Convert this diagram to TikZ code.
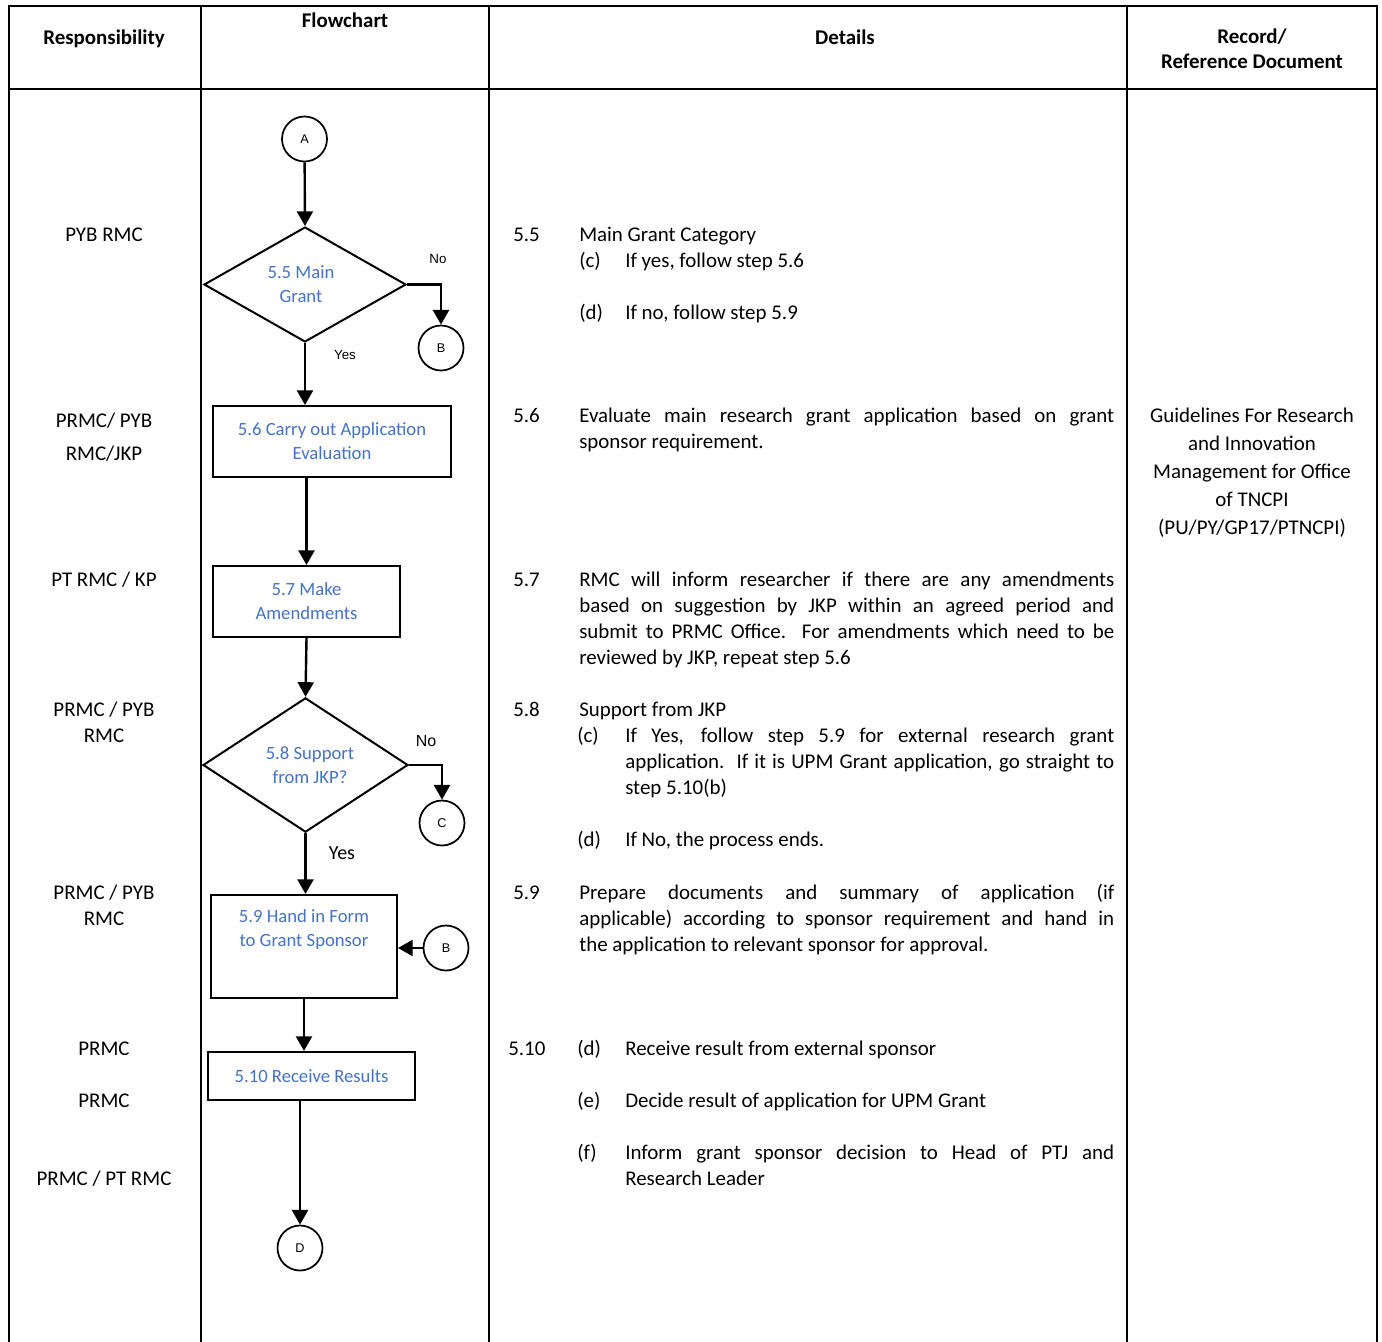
\documentclass[tikz,border=0pt]{standalone}
\usepackage{fontspec}
\setmainfont{Carlito}
\newfontfamily\arialf{Liberation Sans}
\usetikzlibrary{shapes.geometric,arrows.meta}
\newlength\upx
\setlength\upx{0.75pt}
\definecolor{stepblue}{RGB}{68,114,196}
% one justified line of a given width (in px), one plain line
\newcommand\jl[2]{\hbox to #1\upx{#2}}
\newcommand\pl[1]{\hbox{#1}}
% one centred line for the record column
\newcommand\ctr[1]{\hbox to 260\upx{\hfil#1\hfil}}
% two centred lines for the flowchart steps, optional extra space below
\newcommand\two[3][0]{\vbox{\halign{\hfil##\hfil\cr #2\cr #3\cr\noalign{\kern #1\upx}}}}
\begin{document}
\begin{tikzpicture}[x=0.75pt,y=-0.75pt,
  grid/.style={line width=2pt},
  body/.style={font=\fontsize{15.7}{19.5}\selectfont, inner sep=0pt},
  head/.style={font=\fontsize{15.7}{19.5}\selectfont\bfseries, inner sep=0pt},
  stepbox/.style={draw, rectangle, line width=1.5pt, inner sep=0pt,
    text=stepblue, font=\fontsize{14}{18}\selectfont},
  decision/.style={draw, diamond, line width=1.5pt, inner sep=0pt,
    text=stepblue, font=\fontsize{14}{18}\selectfont},
  conn/.style={draw, circle, line width=1.3pt, minimum size=45\upx, inner sep=0pt,
    font=\arialf\fontsize{9.5}{11}\selectfont},
  flow/.style={line width=1.8pt, -{Triangle[length=11pt,width=12pt]}},
  yn/.style={font=\arialf\fontsize{10}{12}\selectfont, inner sep=0pt}]
\useasboundingbox (0,0) rectangle (1382,1342);

% table frame
\draw[grid] (9,1342) -- (9,6) -- (1377,6) -- (1377,1342);
\draw[grid] (9,89) -- (1377,89);
\draw[grid] (201,6) -- (201,1342);
\draw[grid] (489,6) -- (489,1342);
\draw[grid] (1127,6) -- (1127,1342);

% column headings
\node[head, anchor=base] (hresp) at (104,44) {Responsibility};
\node[head, anchor=base] (hflow) at (345,27) {Flowchart};
\node[head, anchor=base] (hdet) at (845,44) {Details};
\node[head, anchor=base] (hrec1) at (1252,43) {Record/};
\node[head, anchor=base] (hrec2) at (1252,68) {Reference Document};

% responsibility column
\node[body, anchor=base] (r1) at (104,241) {PYB RMC};
\node[body, anchor=base] (r2a) at (104,427) {PRMC/ PYB};
\node[body, anchor=base] (r2b) at (104,460) {RMC/JKP};
\node[body, anchor=base] (r3) at (104,586) {PT RMC / KP};
\node[body, anchor=base] (r4a) at (104,716) {PRMC / PYB};
\node[body, anchor=base] (r4b) at (104,742) {RMC};
\node[body, anchor=base] (r5a) at (104,899) {PRMC / PYB};
\node[body, anchor=base] (r5b) at (104,925) {RMC};
\node[body, anchor=base] (r6) at (104,1055) {PRMC};
\node[body, anchor=base] (r7) at (104,1107) {PRMC};
\node[body, anchor=base] (r8) at (104,1185) {PRMC / PT RMC};

% flowchart
\node[conn] (A) at (304.5,139) {A};
\node[decision, minimum width=202\upx, minimum height=115\upx] (d55) at (305,284.5) {\two{5.5 Main}{Grant}\kern8\upx};
\node[conn] (B1) at (441,348) {B};
\node[stepbox, minimum width=238\upx, minimum height=71\upx] (b56) at (332,441.5) {\two{5.6 Carry out Application}{Evaluation}};
\node[stepbox, minimum width=187\upx, minimum height=71\upx] (b57) at (306.5,601.5) {\two{5.7 Make}{Amendments}};
\node[decision, minimum width=205\upx, minimum height=130\upx] (d58) at (305.5,765) {\kern9\upx\two{5.8 Support}{from JKP?}};
\node[conn] (C) at (442,823) {C};
\node[stepbox, minimum width=186\upx, minimum height=103\upx] (b59) at (304,946.5) {\two[34]{5.9 Hand in Form}{to Grant Sponsor}};
\node[conn] (B2) at (446,948) {B};
\node[stepbox, minimum width=207\upx, minimum height=48\upx] (b510) at (311.5,1076) {5.10 Receive Results};
\node[conn] (D) at (300,1248) {D};

\node[yn] (no1) at (438,259) {No};
\node[yn] (yes1) at (345,355) {Yes};
\node[yn, font=\arialf\fontsize{12}{14}\selectfont] (no2) at (426,741) {No};
\node[body, font=\fontsize{15}{18}\selectfont] (yes2) at (342,853) {Yes};

\draw[flow] (A) -- (d55.north);
\draw[flow] (d55.east) -| (B1.north);
\draw[flow] (d55.south) -- (d55.south |- b56.north);
\draw[flow] (b57.north |- b56.south) -- (b57.north);
\draw[flow] (b57.south) -- (d58.north);
\draw[flow] (d58.east) -| (C.north);
\draw[flow] (d58.south) -- (d58.south |- b59.north);
\draw[flow] (B2.west) -- (b59.east |- B2.west);
\draw[flow] (b59.south) -- (b59.south |- b510.north);
\draw[flow] (D.north |- b510.south) -- (D.north);

% details column
\node[body, anchor=base west] (n55) at (513,241) {5.5};
\node[body, anchor=base west] (t55) at (579,241) {Main Grant Category};
\node[body, anchor=base west] (l55c) at (579,267) {(c)};
\node[body, anchor=base west] (t55c) at (625,267) {If yes, follow step 5.6};
\node[body, anchor=base west] (l55d) at (579,319) {(d)};
\node[body, anchor=base west] (t55d) at (625,319) {If no, follow step 5.9};

\node[body, anchor=base west] (n56) at (513,422) {5.6};
\node[body, anchor=base west] (t56) at (579,422) {\vtop{%
  \jl{535}{Evaluate main research grant application based on grant}%
  \pl{sponsor requirement.}}};

\node[body, anchor=base west] (n57) at (513,586) {5.7};
\node[body, anchor=base west] (t57) at (579,586) {\vtop{%
  \jl{535}{RMC will inform researcher if there are any amendments}%
  \jl{535}{based on suggestion by JKP within an agreed period and}%
  \jl{535}{submit to PRMC Office.\ \ For amendments which need to be}%
  \pl{reviewed by JKP, repeat step 5.6}}};

\node[body, anchor=base west] (n58) at (513,716) {5.8};
\node[body, anchor=base west] (t58) at (579,716) {Support from JKP};
\node[body, anchor=base west] (l58c) at (577,742) {(c)};
\node[body, anchor=base west] (t58c) at (625,742) {\vtop{%
  \jl{489}{If Yes, follow step 5.9 for external research grant}%
  \jl{489}{application.\ \ If it is UPM Grant application, go straight to}%
  \pl{step 5.10(b)}}};
\node[body, anchor=base west] (l58d) at (577,846) {(d)};
\node[body, anchor=base west] (t58d) at (625,846) {If No, the process ends.};

\node[body, anchor=base west] (n59) at (513,899) {5.9};
\node[body, anchor=base west] (t59) at (579,899) {\vtop{%
  \jl{535}{Prepare documents and summary of application (if}%
  \jl{535}{applicable) according to sponsor requirement and hand in}%
  \pl{the application to relevant sponsor for approval.}}};

\node[body, anchor=base west] (n510) at (508,1055) {5.10};
\node[body, anchor=base west] (l510d) at (577,1055) {(d)};
\node[body, anchor=base west] (t510d) at (625,1055) {Receive result from external sponsor};
\node[body, anchor=base west] (l510e) at (577,1107) {(e)};
\node[body, anchor=base west] (t510e) at (625,1107) {Decide result of application for UPM Grant};
\node[body, anchor=base west] (l510f) at (577,1159) {(f)};
\node[body, anchor=base west] (t510f) at (625,1159) {\vtop{%
  \jl{489}{Inform grant sponsor decision to Head of PTJ and}%
  \pl{Research Leader}}};

% record / reference document column
\node[body, anchor=base] (rec) at (1252,422) {\vtop{\baselineskip=21pt
  \ctr{Guidelines For Research}%
  \ctr{and Innovation}%
  \ctr{Management for Office}%
  \ctr{of TNCPI}%
  \ctr{(PU/PY/GP17/PTNCPI)}}};
\end{tikzpicture}
\end{document}
